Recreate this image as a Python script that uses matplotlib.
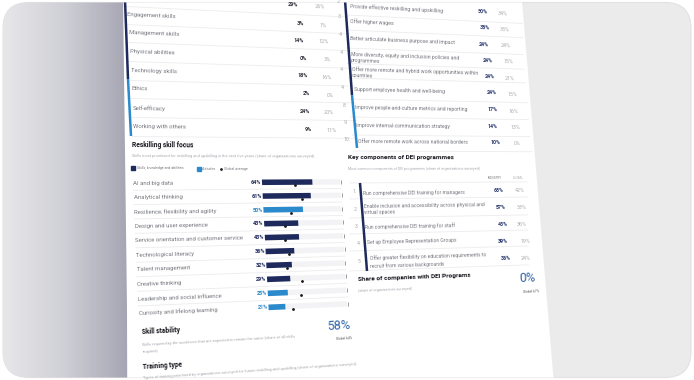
import numpy as np
import matplotlib
matplotlib.use("Agg")
import matplotlib.pyplot as plt
from matplotlib.colors import LinearSegmentedColormap
from matplotlib.patches import FancyBboxPatch, Polygon
from matplotlib.transforms import Affine2D, Transform

plt.rcParams["font.family"] = ["Roboto", "DejaVu Sans"]

# ---------------- data ----------------
# skills table (top of the left column, first label is cut off)
skills = ["", "Engagement skills", "Management skills", "Physical abilities",
          "Technology skills", "Ethics", "Self-efficacy", "Working with others"]
skills_ind = [29, 3, 14, 0, 18, 2, 24, 9]
skills_glob = [26, 1, 12, 3, 16, 0, 20, 11]

# workforce strategies (top of the right column)
strat_rank = [2, 3, 4, 4, 4, 4, 8, 9, 10]
strategies = ["Provide effective reskilling and upskilling",
              "Offer higher wages",
              "Better articulate business purpose and impact",
              "More diversity, equity and inclusion policies and\nprogrammes",
              "Offer more remote and hybrid work opportunities within\ncountries",
              "Support employee health and well-being",
              "Improve people-and-culture metrics and reporting",
              "Improve internal-communication strategy",
              "Offer more remote work across national borders"]
strat_ind = [50, 38, 24, 24, 24, 24, 17, 14, 10]
strat_glob = [34, 35, 24, 15, 21, 15, 16, 13, 0]

# reskilling skill focus
focus = ["AI and big data", "Analytical thinking", "Resilience, flexibility and agility",
         "Design and user experience", "Service orientation and customer service",
         "Technological literacy", "Talent management", "Creative thinking",
         "Leadership and social influence", "Curiosity and lifelong learning"]
focus_val = [64, 61, 50, 43, 43, 36, 32, 29, 25, 21]
focus_glob = [42, 49, 34, 26, 25, 29, 26, 44, 41, 31]
focus_attitude = [False, False, True, False, False, False, False, False, True, True]

# DEI programmes
dei = ["Run comprehensive DEI training for managers",
       "Enable inclusion and accessibility across physical and\nvirtual spaces",
       "Run comprehensive DEI training for staff",
       "Set up Employee Representation Groups",
       "Offer greater flexibility on education requirements to\nrecruit from various backgrounds"]
dei_ind = [68, 57, 43, 39, 36]
dei_glob = [42, 33, 36, 19, 24]

skill_stability, skill_stability_glob = 58, 64
dei_share, dei_share_glob = 0, 67

# ---------------- colours ----------------
NAVY = "#1e2a5c"
BLUE = "#2b8acb"
BIG = "#2f62a6"
LABEL = "#75777e"
FAINT = "#a9abb1"
SEP = "#ececee"
TRACK = "#f3f3f5"

# ---------------- page perspective ----------------
src = np.array([(128, 15), (507, 15), (128, 312), (507, 312)], float)
dst = np.array([(128, 15), (507, 32), (140.6, 312), (526, 294.7)], float)


def homography(a, b):
    A, r = [], []
    for (u, v), (x, y) in zip(a, b):
        A.append([u, v, 1, 0, 0, 0, -u * x, -v * x]); r.append(x)
        A.append([0, 0, 0, u, v, 1, -u * y, -v * y]); r.append(y)
    h = np.linalg.solve(np.array(A), np.array(r))
    return np.append(h, 1.0).reshape(3, 3)


H = homography(src, dst)
Hinv = np.linalg.inv(H)


def apply(M, x, y):
    p = M @ np.array([x, y, 1.0])
    return p[0] / p[2], p[1] / p[2]


class Persp(Transform):
    input_dims = output_dims = 2
    has_inverse = True

    def __init__(self, M):
        super().__init__()
        self.M = M

    def transform_non_affine(self, values):
        v = np.asarray(values, float).reshape(-1, 2)
        p = np.column_stack([v, np.ones(len(v))]) @ self.M.T
        return p[:, :2] / p[:, 2:3]

    def inverted(self):
        return Persp(np.linalg.inv(self.M))


fig = plt.figure(figsize=(6.94, 3.80), dpi=100, facecolor="white")
ax = fig.add_axes([0, 0, 1, 1])
ax.set_xlim(0, 694)
ax.set_ylim(380, 0)
ax.set_autoscale_on(False)
ax.axis("off")
page_tf = Persp(H) + ax.transData

card = FancyBboxPatch((3, 2.5), 688, 375, boxstyle="round,pad=0,rounding_size=26",
                      facecolor="#ebebeb", edgecolor="#e2e2e2", lw=0.8, zorder=0.5)
ax.add_patch(card)
cmap = LinearSegmentedColormap.from_list("side", ["#e7e7ea", "#cfcfd6", "#a6a5b3"])
im = ax.imshow(np.linspace(0, 1, 256)[None, :], extent=(3, 127, 378, 2), aspect="auto",
               cmap=cmap, interpolation="bilinear", zorder=1)
im.set_clip_path(card)
page = Polygon([(123, -5), (521.5, -5), (554, 385), (128, 385)], closed=True,
               facecolor="white", edgecolor="none", zorder=2)
ax.add_patch(page)
page.set_clip_path(card)


def angle_at(x, y):
    u, v = apply(Hinv, x, y)
    x2, y2 = apply(H, u + 10, v)
    return -np.degrees(np.arctan2(y2 - y, x2 - x))


def put(x, y, s, size=4.3, color=LABEL, weight="normal", ha="left", va="center", **kw):
    t = ax.text(x, y, s, fontsize=size, color=color, fontweight=weight, ha=ha, va=va,
                rotation=angle_at(x, y), rotation_mode="anchor", zorder=4, **kw)
    t.set_clip_path(card)
    return t


def hline(x, y, length, color=SEP, lw=0.6):
    u, v = apply(Hinv, x, y)
    ln, = ax.plot([u, u + length], [v, v], color=color, lw=lw, transform=page_tf, zorder=3)
    ln.set_clip_path(card)


def vbar(pts, color, lw=1.8):
    xs, ys = zip(*pts)
    ln, = ax.plot(xs, ys, color=color, lw=lw, solid_capstyle="butt", zorder=3)
    ln.set_clip_path(card)


# ---------------- skills table ----------------
skills_label_xy = [(126, -3), (127, 15), (129, 33), (130, 52), (131, 71), (132, 89), (133, 108), (133, 127)]
skills_ind_xy = [(293, 5), (300, 24), (299, 41), (303, 59), (303, 76), (306, 94), (305, 112), (308, 130)]
skills_glob_xy = [(320, 7), (323, 26), (324, 42), (327, 60), (327, 78), (330, 96), (329, 113), (332, 131)]
for i, name in enumerate(skills):
    put(*skills_label_xy[i], name)
    put(*skills_ind_xy[i], f"{skills_ind[i]}%", weight="bold", color="#2a2c36", ha="center", size=4.0)
    put(*skills_glob_xy[i], f"{skills_glob[i]}%", color=FAINT, ha="center", size=4.0)
    x, y = skills_label_xy[i]
    hline(x - 1, y + 9.5, 212)
vbar([(125, 0), (128, 79)], NAVY)
vbar([(128, 79), (131, 136)], BLUE)

# ---------------- strategies table ----------------
strat_label_xy = [(350, 6), (350, 21), (350, 39), (351, 57.5), (352, 72), (354, 90), (355, 108), (356, 126), (358, 142)]
strat_rank_xy = [(337, 2), (338, 17), (339, 35), (340, 53), (340, 70), (341, 88), (343, 106), (344, 123), (344, 140)]
strat_ind_xy = [(483, 12), (485, 28), (484, 45), (488, 61), (490, 77), (492, 93), (493, 110), (493, 127), (496, 143)]
strat_glob_xy = [(503, 14), (505, 30), (506, 46), (509, 62), (510, 79), (512, 95), (513, 112), (515, 128), (517, 144)]
for i, name in enumerate(strategies):
    put(*strat_rank_xy[i], f"{strat_rank[i]}.", color=FAINT, size=3.8)
    put(*strat_label_xy[i], name, linespacing=1.2, size=3.7)
    put(*strat_ind_xy[i], f"{strat_ind[i]}%", weight="bold", color="#24346b", ha="center", size=3.8)
    put(*strat_glob_xy[i], f"{strat_glob[i]}%", color=FAINT, ha="center", size=3.8)
    x, y = strat_label_xy[i]
    hline(x - 4, y + 9 if "\n" not in name else y + 6, 190)
vbar([(345, 0), (352, 95)], NAVY)
vbar([(352, 95), (357, 148)], BLUE)

# ---------------- reskilling skill focus ----------------
put(132, 145, "Reskilling skill focus", size=4.8, weight="bold", color="#15161c")
put(132, 156, "Skills most prioritized for reskilling and upskilling in the next five years "
              "(share of organizations surveyed)", size=2.9, color=FAINT)
ax.plot([133.5], [168], "s", ms=2.8, color=NAVY, zorder=4)
put(136.5, 168, "Skills, knowledge and abilities", size=2.5, color=LABEL)
ax.plot([199], [168.8], "s", ms=2.8, color=BLUE, zorder=4)
put(202, 168.8, "Attitudes", size=2.5, color=LABEL)
ax.plot([221.5], [169.2], "o", ms=1.0, color="#222222", zorder=4)
put(223.5, 169.2, "Global average", size=2.5, color=LABEL)

u0, v0 = apply(Hinv, 262, 182.3)
u9, v9 = apply(Hinv, 270, 307.3)
ue, _ = apply(Hinv, 340, 182.3)
sc = (ue - u0) / 100
dv = (v9 - v0) / 9
chart_tf = Affine2D().scale(sc, dv).translate(u0, v0) + page_tf

rows = np.arange(len(focus))
colors = [BLUE if a else NAVY for a in focus_attitude]
ax.barh(rows, np.full(len(rows), 100), height=0.4, color=TRACK, transform=chart_tf, zorder=3)
ax.barh(rows, focus_val, height=0.4, color=colors, transform=chart_tf, zorder=3.2)
ax.plot(np.full(len(rows), 101), rows, ls="none", marker="|", ms=3.2, mew=0.6,
        color="#8c8c8c", transform=chart_tf, zorder=3.3)
ax.plot(focus_glob, rows + 0.22, ls="none", marker="o", ms=1.0, color="#1a1a1a",
        transform=chart_tf, zorder=3.4)

xl = (apply(Hinv, 133, 183)[0] - u0) / sc
for i, name in enumerate(focus):
    ly = i + 0.5
    if i < len(focus) - 1:
        ax.plot([xl, 101], [ly, ly], color=SEP, lw=0.6, transform=chart_tf, zorder=2.9)
    x, y = apply(H, u0 + sc * xl, v0 + dv * i)
    put(x, y, name)
    x, y = apply(H, u0 + sc * -0.8, v0 + dv * i)
    put(x, y, f"{focus_val[i]}%", ha="right", weight="bold",
        color=BLUE if focus_attitude[i] else NAVY, size=4.0)

# ---------------- skill stability / training type ----------------
put(142, 332, "Skill stability", size=4.8, weight="bold", color="#15161c")
put(142, 345, "Skills required by the workforce that are expected to remain the same "
              "(share of all skills", size=2.9, color=FAINT)
put(143, 352, "required)", size=2.9, color=FAINT)
put(339, 326, f"{skill_stability}%", size=9, color=BIG, ha="center")
put(344, 338.5, f"Global {skill_stability_glob}%", size=2.3, color="#555555", ha="center")
put(143, 367, "Training type", size=4.8, weight="bold", color="#15161c")
put(143, 378, "Types of training prioritized by organizations surveyed for future reskilling "
              "and upskilling (share of organizations surveyed)", size=2.9, color=FAINT)

# ---------------- DEI ----------------
put(348, 158, "Key components of DEI programmes", size=4.6, weight="bold", color="#15161c")
put(348, 169.5, "Most common components of DEI programmes (share of organizations surveyed)",
    size=2.6, color=FAINT)
put(495, 178, "INDUSTRY", size=2.2, color=LABEL, ha="center")
put(518, 178, "GLOBAL", size=2.2, color=FAINT, ha="center")
dei_label_xy = [(363, 193), (364, 209.5), (365, 227), (367, 243), (370, 262)]
dei_rank_xy = [(353, 192), (354, 210), (355, 227), (357, 244), (358, 262)]
dei_ind_xy = [(499, 190), (501, 207), (503, 224), (503, 241), (506, 258)]
dei_glob_xy = [(520, 190), (522, 207), (522, 224), (525, 241), (526, 258)]
dei_sep_y = [183, 199, 218, 234, 251, 271]
for i, name in enumerate(dei):
    put(*dei_rank_xy[i], f"{i + 1}.", color=FAINT, size=3.8)
    put(*dei_label_xy[i], name, linespacing=1.35, size=3.6)
    put(*dei_ind_xy[i], f"{dei_ind[i]}%", weight="bold", color="#24346b", ha="center", size=3.8)
    put(*dei_glob_xy[i], f"{dei_glob[i]}%", color=FAINT, ha="center", size=3.8)
for y in dei_sep_y:
    hline(350, y, 188)
vbar([(360, 183), (367, 271)], NAVY)

put(358, 280, "Share of companies with DEI Programs", size=4.6, weight="bold", color="#15161c")
put(358, 291, "(share of organizations surveyed)", size=2.6, color=FAINT)
put(527, 278, f"{dei_share}%", size=9, color=BIG, ha="center")
put(531, 292, f"Global {dei_share_glob}%", size=2.3, color="#555555", ha="center")

ax.set_xlim(0, 694)
ax.set_ylim(380, 0)
fig.savefig("out.png", dpi=100, facecolor=fig.get_facecolor())
